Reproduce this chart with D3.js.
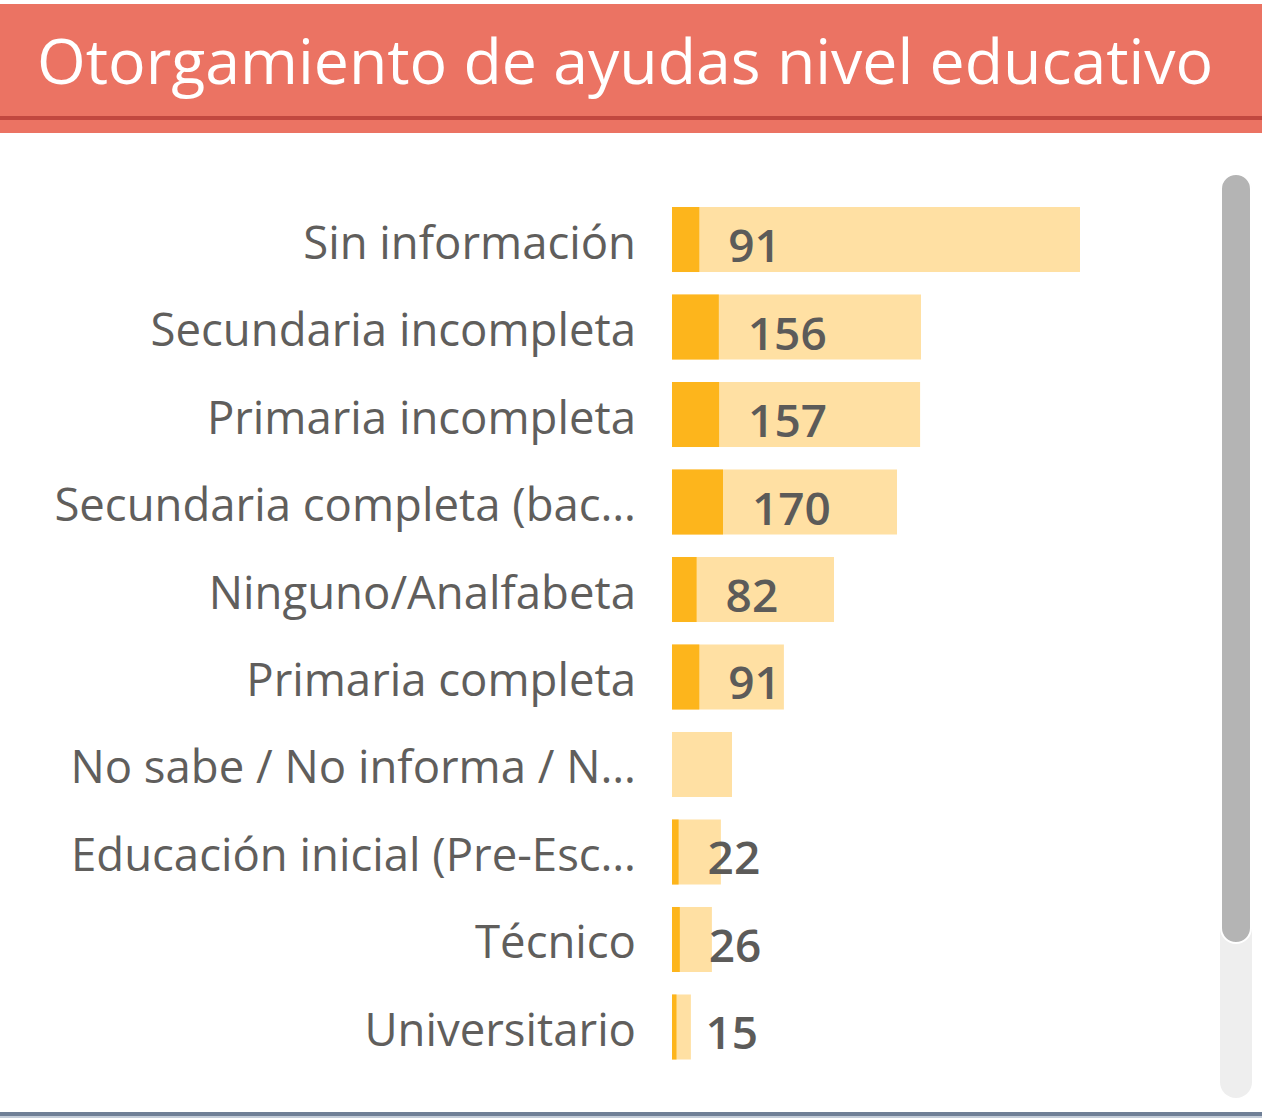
<!DOCTYPE html>
<html>
<head>
<meta charset="utf-8">
<script src="https://cdn.jsdelivr.net/npm/d3@7"></script>
<style>
  html, body { margin: 0; padding: 0; background: #fff; }
  svg { display: block; font-family: "Open Sans", "Noto Sans", sans-serif; }
</style>
</head>
<body>
<div id="chart"></div>
<script>
// Chart data
const titleText = "Otorgamiento de ayudas nivel educativo";
const categories = [
    "Sin información",
    "Secundaria incompleta",
    "Primaria incompleta",
    "Secundaria completa (bac…",
    "Ninguno/Analfabeta",
    "Primaria completa",
    "No sabe / No informa / N…",
    "Educación inicial (Pre-Esc…",
    "Técnico",
    "Universitario"
];
// light background bar (total)
const totals = [1360, 830, 827, 750, 540, 373, 200, 163, 133, 63];
// dark bar (ayudas otorgadas) with label
const values = [91, 156, 157, 170, 82, 91, null, 22, 26, 15];

const W = 1262, H = 1118;
const svg = d3.select("#chart").append("svg")
    .attr("width", W)
    .attr("height", H);

// Title band
svg.append("rect").attr("x", 0).attr("y", 4).attr("width", W).attr("height", 129).attr("fill", "#EB7363");
svg.append("rect").attr("x", 0).attr("y", 116).attr("width", W).attr("height", 4).attr("fill", "#C1473F");
svg.append("text")
    .attr("x", 37)
    .attr("y", 84)
    .attr("fill", "#fff")
    .style("font-size", "62.6px")
    .text(titleText);

// Scales
const data = categories.map((c, i) => ({ name: c, total: totals[i], value: values[i] }));

const y = d3.scaleBand()
    .domain(categories)
    .range([207, 1059.5])
    .paddingInner(0.257)
    .paddingOuter(0);

const x = d3.scaleLinear()
    .domain([0, d3.max(totals)])
    .range([672, 1080]);

const rows = svg.append("g").selectAll("g")
    .data(data)
    .enter().append("g");

rows.append("rect")
    .attr("x", x(0))
    .attr("y", d => y(d.name))
    .attr("height", y.bandwidth())
    .attr("width", d => x(d.total) - x(0))
    .attr("fill", "#FFE0A3");

rows.filter(d => d.value != null).append("rect")
    .attr("x", x(0))
    .attr("y", d => y(d.name))
    .attr("height", y.bandwidth())
    .attr("width", d => x(d.value) - x(0))
    .attr("fill", "#FDB51C");

// Category labels
rows.append("text")
    .attr("x", 636)
    .attr("y", d => y(d.name) + y.bandwidth() / 2 + 19)
    .attr("text-anchor", "end")
    .attr("fill", "#605E5C")
    .style("font-size", "45.5px")
    .text(d => d.name);

// Value labels
rows.filter(d => d.value != null).append("text")
    .attr("x", d => x(d.value) + 29)
    .attr("y", d => y(d.name) + y.bandwidth() / 2 + 22.5)
    .attr("fill", "#5C5B59")
    .style("font-size", "46px")
    .style("font-weight", 600)
    .text(d => d.value);

// Scrollbar
svg.append("rect").attr("x", 1220).attr("y", 175).attr("width", 32).attr("height", 923)
    .attr("rx", 16).attr("fill", "#EEEEEE");
svg.append("rect").attr("x", 1221).attr("y", 174).attr("width", 30).attr("height", 769)
    .attr("rx", 15).attr("fill", "#B4B4B4").attr("stroke", "#fff").attr("stroke-width", 2);

// Bottom border
svg.append("rect").attr("x", 0).attr("y", 1112).attr("width", W).attr("height", 4).attr("fill", "#6F7F96");
svg.append("rect").attr("x", 0).attr("y", 1116).attr("width", W).attr("height", 2).attr("fill", "#C3CCD8");
</script>
</body>
</html>
